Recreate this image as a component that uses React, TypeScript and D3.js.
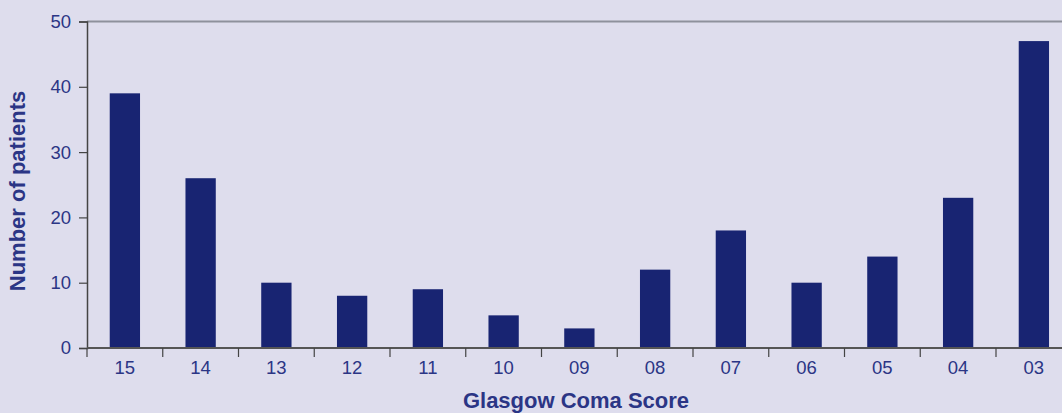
import React, { useEffect, useRef } from "react";
import * as d3 from "d3";

const scores = ["15", "14", "13", "12", "11", "10", "09", "08", "07", "06", "05", "04", "03"];
const patients = [39, 26, 10, 8, 9, 5, 3, 12, 18, 10, 14, 23, 47];
const yTicks = [0, 10, 20, 30, 40, 50];

const W = 1062, H = 413;
const margin = { top: 21.5, left: 87, bottom: 65 };

export default function App() {
  const ref = useRef<SVGSVGElement>(null);

  useEffect(() => {
    const svg = d3.select(ref.current);
    svg.selectAll("*").remove();

    const bg = "#dedded";
    const barColor = "#182472";
    const textColor = "#2b3585";
    const font = "'Liberation Sans', Arial, sans-serif";

    const step = 75.75;
    const x = d3.scaleBand<string>()
      .domain(scores)
      .range([margin.left, margin.left + step * scores.length])
      .paddingInner(0.6)
      .paddingOuter(0.3);
    const y = d3.scaleLinear().domain([0, 50]).range([H - margin.bottom, margin.top]);

    svg.append("rect").attr("width", W).attr("height", H).attr("fill", bg);

    // top frame line
    svg.append("line")
      .attr("x1", margin.left).attr("x2", W)
      .attr("y1", y(50)).attr("y2", y(50))
      .attr("stroke", "#8e919c").attr("stroke-width", 2);

    // bars
    svg.selectAll(".bar").data(patients).join("rect")
      .attr("class", "bar")
      .attr("x", (d, i) => x(scores[i])!)
      .attr("width", x.bandwidth())
      .attr("y", d => y(d))
      .attr("height", d => y(0) - y(d))
      .attr("fill", barColor);

    // y axis
    const yAxis = svg.append("g")
      .attr("transform", `translate(${margin.left},0)`)
      .call(d3.axisLeft(y).tickValues(yTicks).tickSize(8).tickPadding(8));
    yAxis.attr("font-size", null).attr("font-family", null);
    yAxis.select(".domain").attr("stroke", "#444").attr("stroke-width", 1.5);
    yAxis.selectAll(".tick line").attr("stroke", "#444").attr("stroke-width", 1.2);
    yAxis.selectAll(".tick text")
      .attr("fill", textColor)
      .style("font-size", "18.5px").style("font-family", font);

    // x axis
    const xAxis = svg.append("g").attr("transform", `translate(0,${y(0)})`);
    xAxis.append("line")
      .attr("x1", margin.left).attr("x2", W)
      .attr("stroke", "#555").attr("stroke-width", 2);
    const bounds = d3.range(scores.length).map(i => margin.left + i * step);
    xAxis.selectAll(".xt").data(bounds).join("line")
      .attr("class", "xt")
      .attr("x1", d => d).attr("x2", d => d)
      .attr("y1", 0).attr("y2", 9)
      .attr("stroke", "#444").attr("stroke-width", 1.2);
    xAxis.selectAll(".xl").data(scores).join("text")
      .attr("class", "xl")
      .attr("x", d => x(d)! + x.bandwidth() / 2)
      .attr("y", 26)
      .attr("text-anchor", "middle")
      .attr("fill", textColor)
      .style("font-size", "18.5px").style("font-family", font)
      .text(d => d);

    svg.append("text")
      .attr("x", 576).attr("y", 408)
      .attr("text-anchor", "middle")
      .attr("fill", textColor)
      .style("font-size", "22px").style("font-weight", "bold").style("font-family", font)
      .text("Glasgow Coma Score");

    svg.append("text")
      .attr("transform", `translate(25,191) rotate(-90)`)
      .attr("text-anchor", "middle")
      .attr("fill", textColor)
      .style("font-size", "22px").style("font-weight", "bold").style("font-family", font)
      .text("Number of patients");
  }, []);

  return (
    <svg ref={ref} width={W} height={H}
      style={{ position: "absolute", left: 0, top: 0, display: "block" }} />
  );
}
